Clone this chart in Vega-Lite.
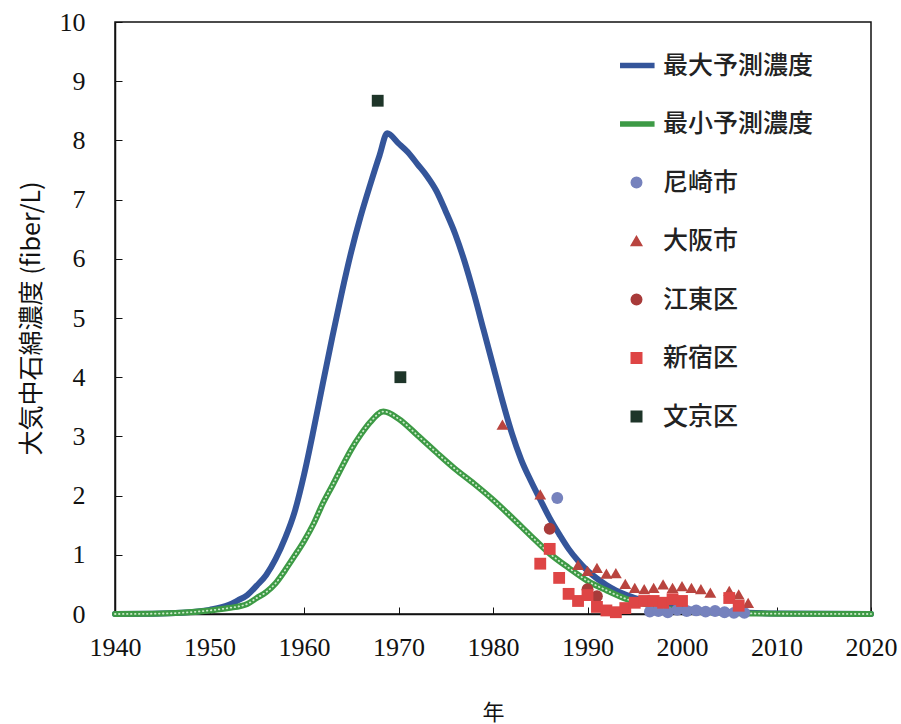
{
  "$schema": "https://vega.github.io/schema/vega-lite/v6.json",
  "width": 756,
  "height": 592,
  "autosize": {"type": "none"},
  "padding": {"left": 115, "top": 22, "right": 30, "bottom": 110},
  "background": "white",
  "config": {
    "view": {"stroke": "#111", "strokeWidth": 1.5},
    "axis": {
      "grid": false,
      "domainColor": "#111",
      "domainWidth": 1.5,
      "tickColor": "#111",
      "tickSize": -7,
      "tickWidth": 1,
      "labelFlush": false,
      "labelFont": "Liberation Serif",
      "labelFontSize": 26,
      "labelColor": "#111",
      "titleFont": "Noto Sans CJK JP",
      "titleFontWeight": "normal",
      "titleColor": "#111"
    }
  },
  "datasets": {
    "series": [
      {"series": "最大予測濃度", "year": 1940, "value": 0},
      {"series": "最大予測濃度", "year": 1944, "value": 0.005},
      {"series": "最大予測濃度", "year": 1947, "value": 0.02},
      {"series": "最大予測濃度", "year": 1950, "value": 0.07},
      {"series": "最大予測濃度", "year": 1952, "value": 0.15},
      {"series": "最大予測濃度", "year": 1953, "value": 0.23},
      {"series": "最大予測濃度", "year": 1954, "value": 0.32},
      {"series": "最大予測濃度", "year": 1955, "value": 0.48},
      {"series": "最大予測濃度", "year": 1956, "value": 0.66},
      {"series": "最大予測濃度", "year": 1957, "value": 0.93},
      {"series": "最大予測濃度", "year": 1958, "value": 1.28},
      {"series": "最大予測濃度", "year": 1959, "value": 1.72},
      {"series": "最大予測濃度", "year": 1960, "value": 2.35},
      {"series": "最大予測濃度", "year": 1961, "value": 3.1},
      {"series": "最大予測濃度", "year": 1962, "value": 3.9},
      {"series": "最大予測濃度", "year": 1963, "value": 4.68},
      {"series": "最大予測濃度", "year": 1964, "value": 5.43},
      {"series": "最大予測濃度", "year": 1965, "value": 6.12},
      {"series": "最大予測濃度", "year": 1966, "value": 6.72},
      {"series": "最大予測濃度", "year": 1967, "value": 7.25},
      {"series": "最大予測濃度", "year": 1968, "value": 7.75},
      {"series": "最大予測濃度", "year": 1968.8, "value": 8.12},
      {"series": "最大予測濃度", "year": 1970, "value": 7.95},
      {"series": "最大予測濃度", "year": 1971, "value": 7.8},
      {"series": "最大予測濃度", "year": 1972, "value": 7.6},
      {"series": "最大予測濃度", "year": 1973, "value": 7.4},
      {"series": "最大予測濃度", "year": 1974, "value": 7.15},
      {"series": "最大予測濃度", "year": 1975, "value": 6.8},
      {"series": "最大予測濃度", "year": 1976, "value": 6.42},
      {"series": "最大予測濃度", "year": 1977, "value": 5.95},
      {"series": "最大予測濃度", "year": 1978, "value": 5.4},
      {"series": "最大予測濃度", "year": 1979, "value": 4.8},
      {"series": "最大予測濃度", "year": 1980, "value": 4.2},
      {"series": "最大予測濃度", "year": 1981, "value": 3.6},
      {"series": "最大予測濃度", "year": 1982, "value": 3.05},
      {"series": "最大予測濃度", "year": 1983, "value": 2.6},
      {"series": "最大予測濃度", "year": 1984, "value": 2.25},
      {"series": "最大予測濃度", "year": 1985, "value": 1.93},
      {"series": "最大予測濃度", "year": 1986, "value": 1.62},
      {"series": "最大予測濃度", "year": 1987, "value": 1.35},
      {"series": "最大予測濃度", "year": 1988, "value": 1.1},
      {"series": "最大予測濃度", "year": 1989, "value": 0.9},
      {"series": "最大予測濃度", "year": 1990, "value": 0.73},
      {"series": "最大予測濃度", "year": 1991, "value": 0.6},
      {"series": "最大予測濃度", "year": 1992, "value": 0.49},
      {"series": "最大予測濃度", "year": 1993, "value": 0.4},
      {"series": "最大予測濃度", "year": 1994, "value": 0.33},
      {"series": "最大予測濃度", "year": 1996, "value": 0.22},
      {"series": "最大予測濃度", "year": 1998, "value": 0.14},
      {"series": "最大予測濃度", "year": 2000, "value": 0.09},
      {"series": "最大予測濃度", "year": 2003, "value": 0.05},
      {"series": "最大予測濃度", "year": 2007, "value": 0.02},
      {"series": "最大予測濃度", "year": 2010, "value": 0.01},
      {"series": "最大予測濃度", "year": 2020, "value": 0},
      {"series": "最小予測濃度", "year": 1940, "value": 0},
      {"series": "最小予測濃度", "year": 1944, "value": 0.005},
      {"series": "最小予測濃度", "year": 1947, "value": 0.02},
      {"series": "最小予測濃度", "year": 1950, "value": 0.06},
      {"series": "最小予測濃度", "year": 1952, "value": 0.1},
      {"series": "最小予測濃度", "year": 1954, "value": 0.17},
      {"series": "最小予測濃度", "year": 1955, "value": 0.27},
      {"series": "最小予測濃度", "year": 1956, "value": 0.37},
      {"series": "最小予測濃度", "year": 1957, "value": 0.52},
      {"series": "最小予測濃度", "year": 1958, "value": 0.74},
      {"series": "最小予測濃度", "year": 1959, "value": 0.98},
      {"series": "最小予測濃度", "year": 1960, "value": 1.23},
      {"series": "最小予測濃度", "year": 1961, "value": 1.52},
      {"series": "最小予測濃度", "year": 1962, "value": 1.87},
      {"series": "最小予測濃度", "year": 1963, "value": 2.17},
      {"series": "最小予測濃度", "year": 1964, "value": 2.48},
      {"series": "最小予測濃度", "year": 1965, "value": 2.78},
      {"series": "最小予測濃度", "year": 1966, "value": 3.03},
      {"series": "最小予測濃度", "year": 1967, "value": 3.24},
      {"series": "最小予測濃度", "year": 1968.4, "value": 3.42},
      {"series": "最小予測濃度", "year": 1970, "value": 3.3},
      {"series": "最小予測濃度", "year": 1972, "value": 3.02},
      {"series": "最小予測濃度", "year": 1974, "value": 2.73},
      {"series": "最小予測濃度", "year": 1976, "value": 2.45},
      {"series": "最小予測濃度", "year": 1978, "value": 2.2},
      {"series": "最小予測濃度", "year": 1980, "value": 1.93},
      {"series": "最小予測濃度", "year": 1982, "value": 1.63},
      {"series": "最小予測濃度", "year": 1984, "value": 1.32},
      {"series": "最小予測濃度", "year": 1986, "value": 1.02},
      {"series": "最小予測濃度", "year": 1988, "value": 0.78},
      {"series": "最小予測濃度", "year": 1990, "value": 0.56},
      {"series": "最小予測濃度", "year": 1992, "value": 0.4},
      {"series": "最小予測濃度", "year": 1994, "value": 0.26},
      {"series": "最小予測濃度", "year": 1996, "value": 0.17},
      {"series": "最小予測濃度", "year": 1998, "value": 0.1},
      {"series": "最小予測濃度", "year": 2000, "value": 0.06},
      {"series": "最小予測濃度", "year": 2003, "value": 0.03},
      {"series": "最小予測濃度", "year": 2007, "value": 0.01},
      {"series": "最小予測濃度", "year": 2010, "value": 0.005},
      {"series": "最小予測濃度", "year": 2020, "value": 0}
    ],
    "obs": [
      {"series": "尼崎市", "year": 1986.8, "value": 1.96},
      {"series": "尼崎市", "year": 1996.6, "value": 0.04},
      {"series": "尼崎市", "year": 1997.5, "value": 0.05},
      {"series": "尼崎市", "year": 1998.5, "value": 0.03},
      {"series": "尼崎市", "year": 1999.5, "value": 0.07},
      {"series": "尼崎市", "year": 2000.5, "value": 0.05},
      {"series": "尼崎市", "year": 2001.5, "value": 0.06},
      {"series": "尼崎市", "year": 2002.5, "value": 0.04},
      {"series": "尼崎市", "year": 2003.5, "value": 0.05},
      {"series": "尼崎市", "year": 2004.5, "value": 0.03},
      {"series": "尼崎市", "year": 2005.5, "value": 0.02},
      {"series": "尼崎市", "year": 2006.6, "value": 0.02},
      {"series": "大阪市", "year": 1981, "value": 3.2},
      {"series": "大阪市", "year": 1985, "value": 2.02},
      {"series": "大阪市", "year": 1989, "value": 0.83},
      {"series": "大阪市", "year": 1990, "value": 0.73},
      {"series": "大阪市", "year": 1991, "value": 0.78},
      {"series": "大阪市", "year": 1992, "value": 0.68},
      {"series": "大阪市", "year": 1993, "value": 0.69},
      {"series": "大阪市", "year": 1994, "value": 0.51},
      {"series": "大阪市", "year": 1995, "value": 0.44},
      {"series": "大阪市", "year": 1996, "value": 0.42},
      {"series": "大阪市", "year": 1997, "value": 0.44},
      {"series": "大阪市", "year": 1998, "value": 0.5},
      {"series": "大阪市", "year": 1999, "value": 0.44},
      {"series": "大阪市", "year": 2000, "value": 0.47},
      {"series": "大阪市", "year": 2001, "value": 0.44},
      {"series": "大阪市", "year": 2002, "value": 0.42},
      {"series": "大阪市", "year": 2003, "value": 0.36},
      {"series": "大阪市", "year": 2005, "value": 0.39},
      {"series": "大阪市", "year": 2006, "value": 0.33},
      {"series": "大阪市", "year": 2007, "value": 0.19},
      {"series": "江東区", "year": 1986, "value": 1.44},
      {"series": "江東区", "year": 1990, "value": 0.42},
      {"series": "江東区", "year": 1991, "value": 0.3},
      {"series": "新宿区", "year": 1985, "value": 0.85},
      {"series": "新宿区", "year": 1986, "value": 1.1},
      {"series": "新宿区", "year": 1987, "value": 0.61},
      {"series": "新宿区", "year": 1988, "value": 0.34},
      {"series": "新宿区", "year": 1989, "value": 0.22},
      {"series": "新宿区", "year": 1990, "value": 0.32},
      {"series": "新宿区", "year": 1991, "value": 0.12},
      {"series": "新宿区", "year": 1992, "value": 0.06},
      {"series": "新宿区", "year": 1993, "value": 0.03},
      {"series": "新宿区", "year": 1994, "value": 0.1},
      {"series": "新宿区", "year": 1995, "value": 0.19},
      {"series": "新宿区", "year": 1996, "value": 0.22},
      {"series": "新宿区", "year": 1997, "value": 0.22},
      {"series": "新宿区", "year": 1998, "value": 0.19},
      {"series": "新宿区", "year": 1999, "value": 0.25},
      {"series": "新宿区", "year": 2000, "value": 0.22},
      {"series": "新宿区", "year": 2005, "value": 0.27},
      {"series": "新宿区", "year": 2006, "value": 0.14},
      {"series": "文京区", "year": 1967.8, "value": 8.67},
      {"series": "文京区", "year": 1970.2, "value": 4.0}
    ]
  },
  "encoding": {
    "x": {
      "field": "year",
      "type": "quantitative",
      "scale": {"domain": [1940, 2020], "nice": false, "zero": false},
      "axis": {
        "values": [1940, 1950, 1960, 1970, 1980, 1990, 2000, 2010, 2020],
        "format": "d",
        "title": "年",
        "titleFontSize": 22,
        "labelPadding": 27,
        "titlePadding": 42
      }
    },
    "y": {
      "field": "value",
      "type": "quantitative",
      "scale": {"domain": [0, 10], "nice": false},
      "axis": {
        "values": [0, 1, 2, 3, 4, 5, 6, 7, 8, 9, 10],
        "title": "大気中石綿濃度 (fiber/L)",
        "titleFontSize": 25,
        "labelPadding": 37,
        "titlePadding": 15
      }
    }
  },
  "layer": [
    {
      "data": {"name": "series"},
      "transform": [{"filter": {"field": "series", "oneOf": ["最大予測濃度"]}}],
      "mark": {"type": "line", "strokeWidth": 6, "strokeCap": "round", "strokeJoin": "round", "interpolate": "monotone"},
      "encoding": {
        "color": {
          "field": "series",
          "type": "nominal",
          "scale": {
            "domain": ["最大予測濃度", "最小予測濃度", "尼崎市", "大阪市", "江東区", "新宿区", "文京区"],
            "range": ["#34559a", "#3d9a45", "#7682bd", "#b9443f", "#a83b3a", "#de4545", "#1e3529"]
          },
          "legend": {
            "orient": "none",
            "legendX": 509,
            "legendY": 31,
            "title": null,
            "labelFont": "Noto Sans CJK JP",
            "labelFontSize": 25,
            "labelFontWeight": 500,
            "labelColor": "#222",
            "symbolSize": 110,
            "rowPadding": 32.5,
            "labelOffset": 14,
            "encode": {
              "symbols": {
                "update": {
                  "fill": {"scale": "color", "field": "value"},
                  "shape": {"scale": "shape", "field": "value"},
                  "stroke": {"value": "transparent"},
                  "opacity": {"value": 1}
                }
              }
            }
          }
        }
      }
    },
    {
      "data": {"name": "series"},
      "transform": [{"filter": {"field": "series", "oneOf": ["最小予測濃度"]}}],
      "mark": {"type": "line", "strokeWidth": 6, "strokeCap": "round", "strokeJoin": "round", "interpolate": "monotone"},
      "encoding": {
        "color": {"field": "series", "type": "nominal"}
      }
    },
    {
      "data": {"name": "series"},
      "transform": [{"filter": {"field": "series", "oneOf": ["最小予測濃度"]}}],
      "mark": {"type": "line", "strokeWidth": 1.8, "strokeCap": "round", "strokeDash": [0.5, 3.5], "color": "#cdeccb", "interpolate": "monotone"},
      "encoding": {}
    },
    {
      "data": {"name": "obs"},
      "mark": {"type": "point", "filled": true, "size": 140, "opacity": 1},
      "encoding": {
        "color": {"field": "series", "type": "nominal"},
        "shape": {
          "field": "series",
          "type": "nominal",
          "scale": {
            "domain": ["最大予測濃度", "最小予測濃度", "尼崎市", "大阪市", "江東区", "新宿区", "文京区"],
            "range": ["M-3,-0.4L3.3,-0.4L3.3,0.4L-3,0.4Z", "M-3,-0.4L3.3,-0.4L3.3,0.4L-3,0.4Z", "circle", "triangle-up", "circle", "square", "square"]
          },
          "legend": {
            "orient": "none",
            "legendX": 509,
            "legendY": 31,
            "title": null,
            "labelFont": "Noto Sans CJK JP",
            "labelFontSize": 25,
            "labelFontWeight": 500,
            "labelColor": "#222",
            "symbolSize": 110,
            "rowPadding": 32.5,
            "labelOffset": 14,
            "encode": {
              "symbols": {
                "update": {
                  "fill": {"scale": "color", "field": "value"},
                  "shape": {"scale": "shape", "field": "value"},
                  "stroke": {"value": "transparent"},
                  "opacity": {"value": 1}
                }
              }
            }
          }
        }
      }
    }
  ]
}
